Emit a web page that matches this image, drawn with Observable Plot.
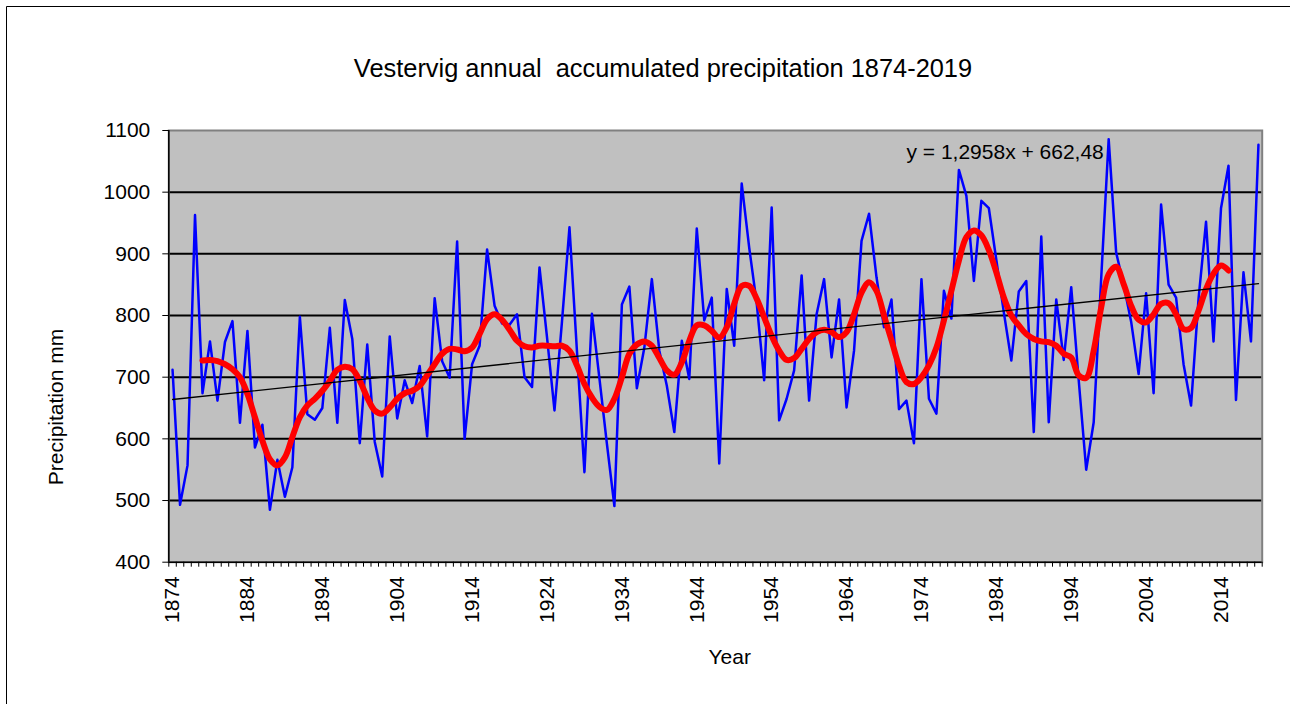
<!DOCTYPE html>
<html>
<head>
<meta charset="utf-8">
<script src="https://cdn.jsdelivr.net/npm/d3@7"></script>
<script src="https://cdn.jsdelivr.net/npm/@observablehq/plot@0.6"></script>
<style>
  html, body { margin: 0; padding: 0; background: #fff; overflow: hidden; }
  #chart svg { display: block; max-width: none; }
</style>
</head>
<body>
<div id="chart"></div>
<script>
// ---- Data ----
const titleText = "Vestervig annual  accumulated precipitation 1874-2019";
const yLabelText = "Precipitation mm";
const xLabelText = "Year";
const equationText = "y = 1,2958x + 662,48";

const years = d3.range(1874, 2020); // categories 1874..2019

const precipitation = [
  712, 493, 557, 963, 674, 758, 662, 757, 791, 626,   // 1874-1883
  775, 586, 623, 485, 566, 506, 554, 798, 640, 631,   // 1884-1893
  650, 780, 626, 825, 762, 593, 753, 595, 539, 766,   // 1894-1903
  633, 695, 658, 718, 604, 828, 726, 699, 920, 600,   // 1904-1913
  721, 751, 907, 816, 787, 785, 802, 700, 684, 878,   // 1914-1923
  765, 646, 790, 943, 742, 546, 803, 698, 592, 491,   // 1924-1933
  818, 847, 682, 748, 859, 743, 686, 611, 759, 697,   // 1934-1943
  941, 792, 829, 560, 843, 751, 1014, 910, 820, 695,  // 1944-1953
  975, 630, 665, 711, 865, 662, 802, 859, 732, 826,   // 1954-1963
  651, 743, 921, 965, 862, 781, 826, 648, 662, 593,   // 1964-1973
  859, 665, 641, 840, 795, 1036, 994, 856, 986, 974,  // 1974-1983
  890, 805, 727, 839, 856, 611, 928, 627, 826, 728,   // 1984-1993
  846, 695, 550, 627, 860, 1086, 902, 850, 790, 705,  // 1994-2003
  836, 674, 980, 850, 829, 721, 654, 827, 952, 758,   // 2004-2013
  974, 1043, 663, 870, 758, 1077                      // 2014-2019
];

const smoothYears = d3.range(1878, 2016); // red smoothed series 1878..2015
const smoothed = [
  727, 728, 726, 721, 713, 700, 673, 635, 597, 567,   // 1878-1887
  557, 570, 603, 635, 654, 665, 678, 694, 712, 717,   // 1888-1897
  713, 694, 667, 646, 641, 651, 665, 674, 678, 686,   // 1898-1907
  703, 721, 738, 746, 745, 742, 748, 770, 794, 802,   // 1908-1917
  793, 777, 759, 750, 748, 751, 751, 750, 751, 743,   // 1918-1927
  719, 689, 667, 652, 647, 665, 700, 738, 753, 758,   // 1928-1937
  751, 731, 711, 704, 724, 759, 784, 784, 775, 764,   // 1938-1947
  781, 819, 848, 848, 827, 797, 767, 743, 728, 731,   // 1948-1957
  746, 762, 773, 777, 773, 765, 773, 802, 837, 854,   // 1958-1967
  840, 800, 760, 719, 692, 689, 700, 719, 748, 792,   // 1968-1977
  840, 889, 927, 938, 930, 906, 870, 829, 800, 784,   // 1978-1987
  770, 762, 758, 757, 751, 738, 732, 703, 699, 743,   // 1988-1997
  813, 867, 879, 851, 816, 793, 789, 802, 819, 820,   // 1998-2007
  802, 778, 780, 808, 843, 868, 881, 873              // 2008-2015
];

const trendYears = [1874, 2019];
const trendValues = [663.8, 851.7];

const yTicks = [400, 500, 600, 700, 800, 900, 1000, 1100];
const gridValues = [500, 600, 700, 800, 900, 1000];
const xLabelYears = [1874, 1884, 1894, 1904, 1914, 1924, 1934, 1944, 1954, 1964, 1974, 1984, 1994, 2004, 2014];

// ---- Tables built from the arrays ----
const rows = years.map((year, i) => ({year, value: precipitation[i]}));
const smoothRows = smoothYears.map((year, i) => ({year, value: smoothed[i]}));
const trendRows = trendYears.map((year, i) => ({year, value: trendValues[i]}));
const boundaries = years.map(y => y - 0.5).concat([years[years.length - 1] + 0.5]);
const xDomain = [years[0] - 0.5, years[years.length - 1] + 0.5];
const equationRow = [{year: 1972, value: 1053, label: equationText}];

const font = "'Liberation Sans', Arial, Helvetica, sans-serif";

const chart = Plot.plot({
  width: 1290,
  height: 704,
  marginLeft: 168.3,
  marginRight: 28.3,
  marginTop: 130,
  marginBottom: 142.3,
  style: {fontFamily: font, fontSize: "21px", background: "#fff", color: "#000", overflow: "hidden"},
  x: {domain: xDomain},
  y: {domain: [400, 1100]},
  marks: [
    Plot.frame({fill: "#C0C0C0"}),
    Plot.ruleY(gridValues, {stroke: "#000", strokeWidth: 2}),
    Plot.frame({stroke: "#808080", strokeWidth: 2}),
    Plot.ruleX([xDomain[0]], {stroke: "#000", strokeWidth: 1.5}),
    Plot.ruleY([400], {stroke: "#000", strokeWidth: 1.5}),
    Plot.axisY({ticks: yTicks, tickSize: 6, tickPadding: 12.5, tickFormat: d => String(d), label: null, fontSize: 21, stroke: "#000", fill: "#000"}),
    Plot.axisX({ticks: boundaries, tickSize: 5, fill: "none", stroke: "#000", label: null}),
    Plot.axisX({ticks: xLabelYears, tickSize: 0, tickRotate: -90, tickPadding: 14, tickFormat: d => String(d), label: null, fontSize: 21, fill: "#000"}),
    Plot.line(rows, {x: "year", y: "value", stroke: "#0000FF", strokeWidth: 2.5, strokeLinejoin: "round"}),
    Plot.line(smoothRows, {x: "year", y: "value", stroke: "#FF0000", strokeWidth: 6, curve: "catmull-rom", strokeLinecap: "round", strokeLinejoin: "round"}),
    Plot.line(trendRows, {x: "year", y: "value", stroke: "#000", strokeWidth: 1.3}),
    Plot.text(equationRow, {x: "year", y: "value", text: "label", textAnchor: "start", lineAnchor: "bottom", fontSize: 21, fill: "#000"})
  ]
});

const svg = d3.select(chart);
// outer chart-area border (only left and top edges are visible in the reference)
svg.append("path")
  .attr("d", "M6.5,704V6.5H1290")
  .attr("fill", "none").attr("stroke", "#000").attr("stroke-width", 1);
// title
svg.append("text")
  .attr("x", 663).attr("y", 76.7)
  .attr("text-anchor", "middle")
  .attr("font-size", 25.4)
  .attr("font-family", font)
  .attr("fill", "#000")
  .attr("xml:space", "preserve")
  .style("white-space", "pre")
  .text(titleText);
// y-axis title
svg.append("text")
  .attr("transform", "translate(62.5,407) rotate(-90)")
  .attr("text-anchor", "middle")
  .attr("font-size", 21)
  .attr("font-family", font)
  .attr("fill", "#000")
  .text(yLabelText);
// x-axis title
svg.append("text")
  .attr("x", 729.7).attr("y", 664.3)
  .attr("text-anchor", "middle")
  .attr("font-size", 21)
  .attr("font-family", font)
  .attr("fill", "#000")
  .text(xLabelText);

document.getElementById("chart").appendChild(chart);
</script>
</body>
</html>
